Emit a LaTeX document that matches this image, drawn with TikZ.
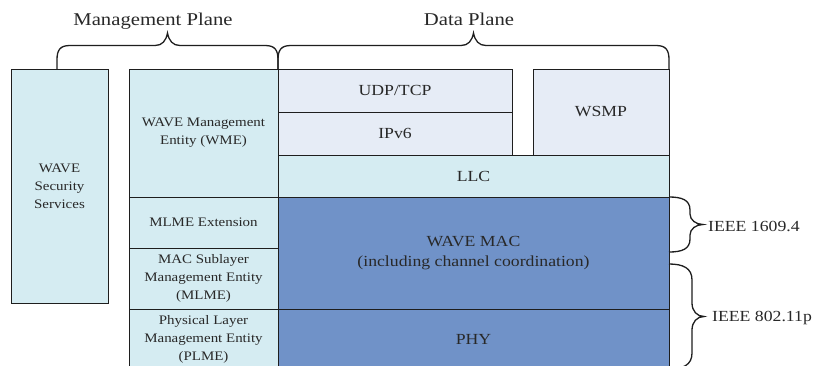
\documentclass[tikz,border=0pt]{standalone}
\usepackage{fontspec}
\setmainfont{Liberation Serif}[FakeStretch=1.15]
\definecolor{cyanf}{RGB}{213,236,242}
\definecolor{lavf}{RGB}{230,236,246}
\definecolor{bluef}{RGB}{112,146,200}
\definecolor{linec}{RGB}{30,30,30}
\definecolor{textc}{RGB}{40,40,40}
\newcommand\fsmall{\fontsize{13}{18}\selectfont}
\newcommand\fmain{\fontsize{15.4}{20}\selectfont}
\newcommand\fbig{\fontsize{18}{20}\selectfont}
\tikzset{
  box/.style={draw=linec, line width=0.9pt, align=center, inner sep=0pt, text=textc, font=\fmain},
  mgmt/.style={box, fill=cyanf, font=\fsmall},
  upper/.style={box, fill=lavf},
  llcbox/.style={box, fill=cyanf},
  lower/.style={box, fill=bluef},
  bracepath/.style={draw=linec, line width=1.3pt},
  lbl/.style={text=textc, inner sep=0pt}
}
\begin{document}
\begin{tikzpicture}[x=1pt,y=-1pt]
\clip (0,0) rectangle (814,365);
\fill[white] (0,0) rectangle (814,365);
% management plane
\node[mgmt, minimum width=97pt, minimum height=234pt] (sec) at (59.5,186) {WAVE\\Security\\Services};
\node[mgmt, minimum width=149pt, minimum height=128pt] (wme) at (203.5,133) {WAVE Management\\Entity (WME)};
\node[mgmt, minimum width=149pt, minimum height=51pt] (mlmeext) at (203.5,222.5) {MLME Extension};
\node[mgmt, minimum width=149pt, minimum height=61pt] (mlme) at (203.5,278.5) {MAC Sublayer\\Management Entity\\(MLME)};
\node[mgmt, minimum width=149pt, minimum height=60pt] (plme) at (203.5,339) {Physical Layer\\Management Entity\\(PLME)};
% data plane
\node[upper, minimum width=234pt, minimum height=43pt] (udp) at (395,90.5) {UDP/TCP};
\node[upper, minimum width=234pt, minimum height=43pt] (ipv6) at (395,133.5) {IPv6};
\node[upper, minimum width=136pt, minimum height=86pt] (wsmp) at (601,112) {WSMP};
\node[llcbox, minimum width=391pt, minimum height=42pt] (llc) at (473.5,176) {LLC};
\node[lower, minimum width=391pt, minimum height=112pt] (mac) at (473.5,253) {WAVE MAC\\(including channel coordination)};
\node[lower, minimum width=391pt, minimum height=60pt] (phy) at (473.5,339) {PHY};
% plane labels
\node[lbl, font=\fbig, anchor=base] (mp) at (153,25) {Management Plane};
\node[lbl, font=\fbig, anchor=base] (dp) at (469,25.5) {Data Plane};
% top braces
\draw[bracepath] (57,69) -- (57,60) .. controls (57,50) and (60,45.5) .. (70,45.5) -- (155,45.5)
  .. controls (162,45.5) and (166,41) .. (167.5,33) .. controls (169,41) and (173,45.5) .. (180,45.5)
  -- (265,45.5) .. controls (275,45.5) and (278,50) .. (278,60) -- (278,69);
\draw[bracepath] (278,69) -- (278,60) .. controls (278,50) and (281,45.5) .. (291,45.5) -- (461,45.5)
  .. controls (468,45.5) and (472,41) .. (473.5,33) .. controls (475,41) and (479,45.5) .. (486,45.5)
  -- (656,45.5) .. controls (666,45.5) and (669,50) .. (669,60) -- (669,69);
% right braces
\draw[bracepath] (669,197) .. controls (682,197) and (690,200) .. (690,210) -- (690,214)
  .. controls (690,220) and (696,224.5) .. (703,224.5) .. controls (696,224.5) and (690,229) .. (690,235)
  -- (690,239) .. controls (690,249) and (682,252) .. (669,252);
\draw[bracepath] (669,264) .. controls (683,264) and (692,268) .. (692,280) -- (692,303)
  .. controls (692,311) and (697,316.5) .. (704,316.5) .. controls (697,316.5) and (692,322) .. (692,330)
  -- (692,353) .. controls (692,365) and (683,369) .. (669,369);
\node[lbl, font=\fmain, anchor=base west] (ieee1) at (708,231.5) {IEEE 1609.4};
\node[lbl, font=\fmain, anchor=base west] (ieee2) at (712,321.5) {IEEE 802.11p};
\end{tikzpicture}
\end{document}
